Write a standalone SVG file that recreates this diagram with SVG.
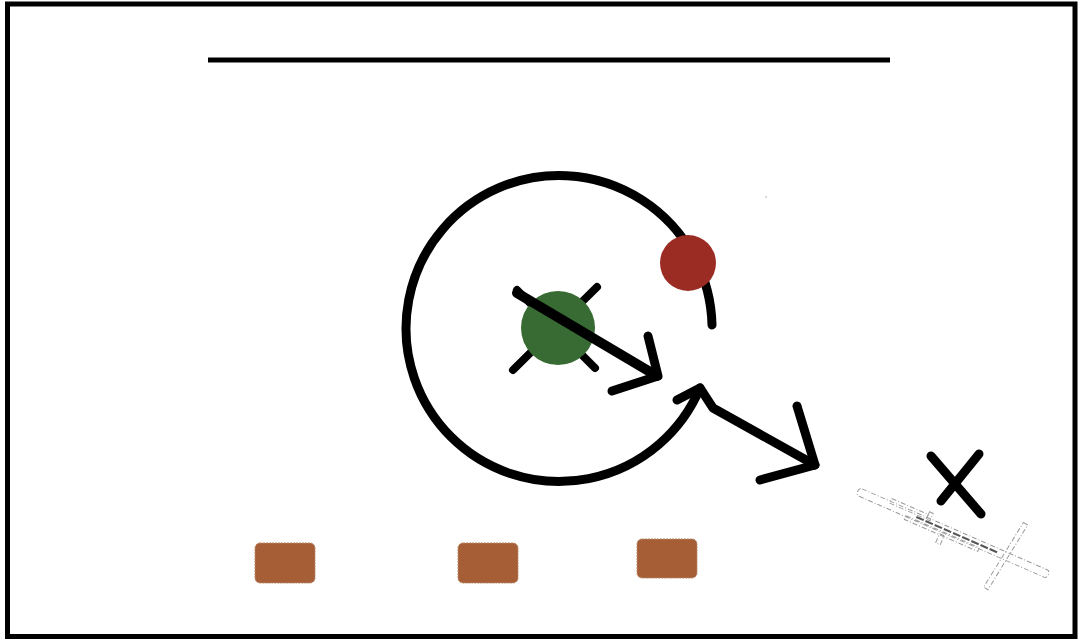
<svg xmlns="http://www.w3.org/2000/svg" width="1082" height="641" viewBox="0 0 1082 641">
<style>
.k{fill:none;stroke:#000;stroke-linecap:round;stroke-linejoin:round}
.box{fill:#a55e36;stroke:#b8896b;stroke-width:1;stroke-dasharray:2 1}
.sk{fill:none;stroke:#9a9a9a;stroke-width:1;stroke-dasharray:5 2 1 2}
</style>
<rect width="1082" height="641" fill="#fff"/>
<rect x="7.5" y="4" width="1067.5" height="632.5" fill="none" stroke="#000" stroke-width="5"/>
<line x1="208" y1="60" x2="890" y2="60" stroke="#000" stroke-width="5"/>
<g id="cross">
<line class="k" x1="513" y1="370" x2="597" y2="287" stroke-width="8"/>
<line class="k" x1="517" y1="290" x2="595" y2="368" stroke-width="8"/>
</g>
<g id="green"><circle cx="558" cy="328" r="37" fill="#386a33"/></g>
<g id="connectors">
<path class="k" d="M 712 325 A 153 153 0 1 0 700 388" stroke-width="9"/>
<polyline class="k" points="677,400 700,388 713,408 815,465" stroke-width="9"/>
<polyline class="k" points="797,406 815,465 760,480" stroke-width="9"/>
<line class="k" x1="517" y1="293" x2="657" y2="376" stroke-width="10"/>
<polyline class="k" points="648,336 658,376 612,391" stroke-width="9"/>
</g>
<g id="red"><circle cx="688" cy="263" r="28" fill="#9b2c24"/></g>
<g id="box1"><rect class="box" x="255" y="543" width="60" height="40" rx="5"/></g>
<g id="box2"><rect class="box" x="458" y="543" width="60" height="40" rx="5"/></g>
<g id="box3"><rect class="box" x="637" y="539" width="60" height="39" rx="5"/></g>
<g id="xmark">
<line class="k" x1="931" y1="456" x2="981" y2="514" stroke-width="9"/>
<line class="k" x1="979" y1="454" x2="941" y2="501" stroke-width="9"/>
</g>
<g id="sketch" transform="translate(953,533) rotate(23.6)">
<rect class="sk" x="-104" y="-4" width="208" height="8" rx="3"/>
<rect class="sk" x="-70" y="-7" width="40" height="5"/>
<line x1="-40" y1="0" x2="50" y2="0" stroke="#555" stroke-width="2" stroke-dasharray="8 2"/>
<rect class="sk" x="-50" y="3" width="80" height="4"/>
<rect class="sk" x="55" y="-38" width="5" height="76" transform="rotate(8 57 0)"/>
<rect class="sk" x="-30" y="-10" width="4" height="8"/>
<rect class="sk" x="-12" y="6" width="5" height="10"/>
</g>
<circle cx="766" cy="197" r="1" fill="#ccc"/>
</svg>
